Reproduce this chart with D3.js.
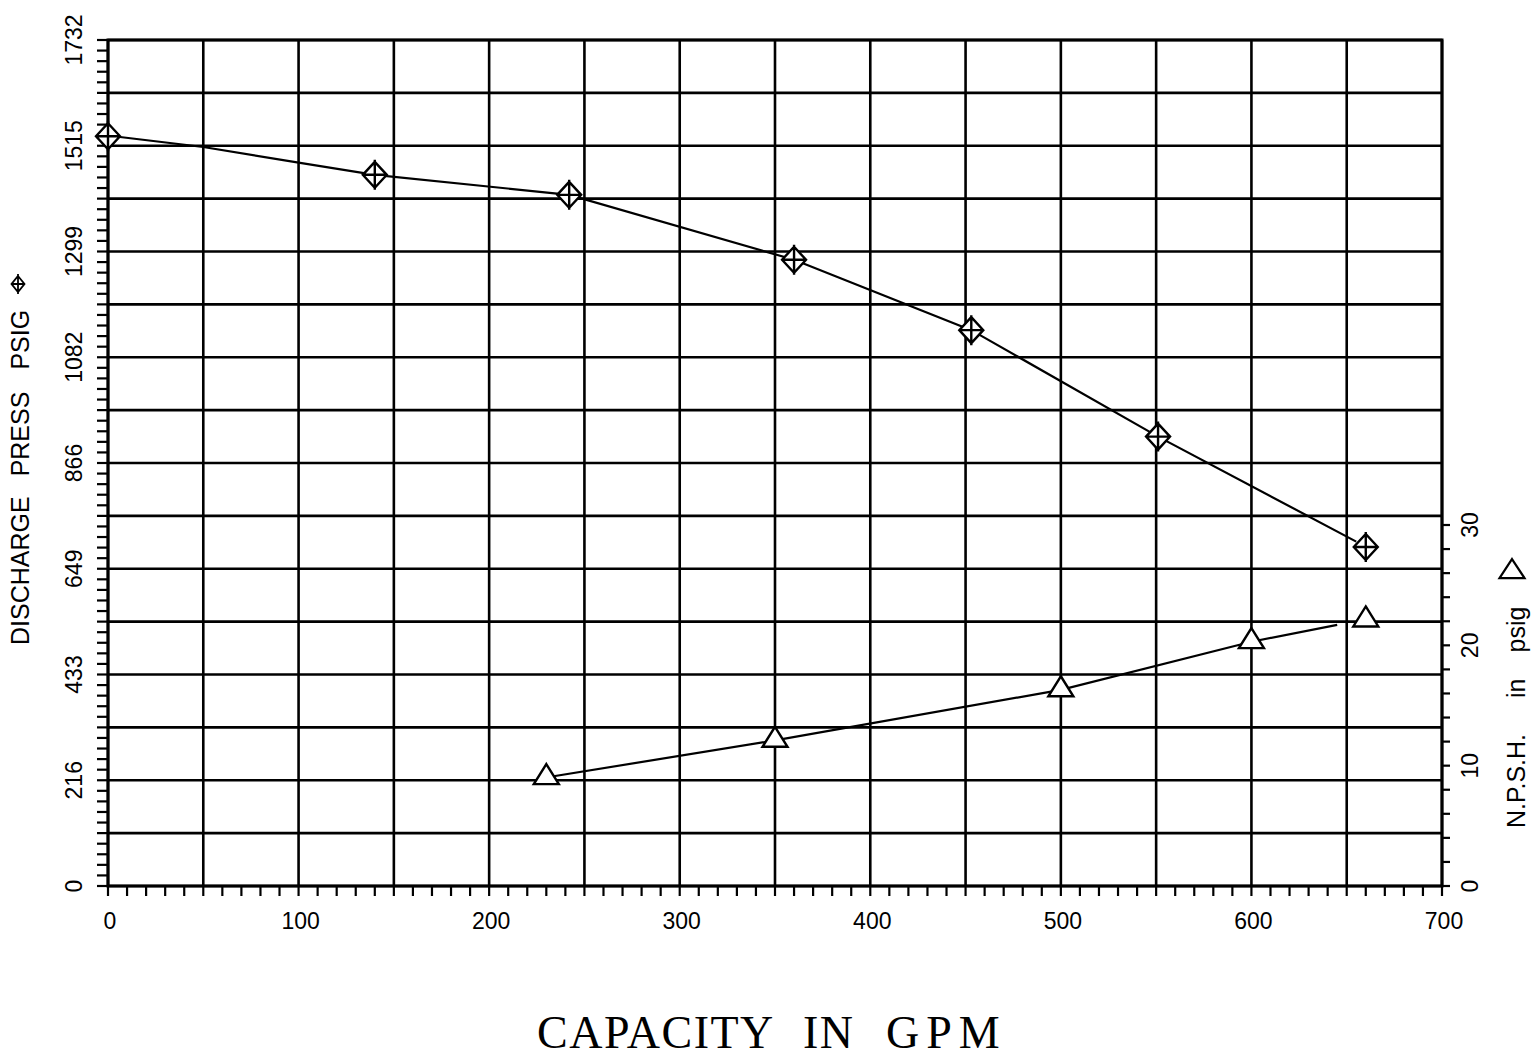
<!DOCTYPE html>
<html>
<head>
<meta charset="utf-8">
<script src="https://cdn.jsdelivr.net/npm/d3@7"></script>
<style>
  body { margin: 0; background: #fff; }
  svg { display: block; }
  .tick-label { font-family: 'Liberation Sans', Arial, sans-serif; font-size: 23px; fill: #000; }
  .axis-title { font-family: 'Liberation Sans', Arial, sans-serif; font-size: 25px; fill: #000; }
  .main-title { font-family: 'Liberation Serif', 'Times New Roman', serif; font-size: 46px; fill: #000; }
</style>
</head>
<body>
<svg id="chart" width="1537" height="1057"></svg>
<script>
// discharge pressure readings (diamond markers)
const pressGpm = [0, 140, 242, 360, 453, 551, 660];
const pressPsig = [1535, 1456, 1415, 1282, 1138, 920, 694];

// drawn curve through the pressure readings
const pressCurveGpm = [3, 50, 100, 140, 242, 360, 453, 551, 655];
const pressCurvePsig = [1535, 1513, 1481, 1456, 1415, 1282, 1138, 920, 705];

// N.P.S.H. readings (triangle markers)
const npshGpm = [230, 350, 500, 600, 660];
const npshPsig = [9.0, 12.1, 16.3, 20.3, 22.1];

// drawn curve through the npsh readings
const npshCurveGpm = [233, 350, 500, 600, 645];
const npshCurvePsig = [9.1, 12.1, 16.3, 20.3, 21.7];

const xTickLabels = ['0', '100', '200', '300', '400', '500', '600', '700'];
const yTickLabels = ['0', '216', '433', '649', '866', '1082', '1299', '1515', '1732'];
const rTickLabels = ['0', '10', '20', '30'];

const svg = d3.select('#chart');

const plotLeft = 108;
const plotRight = 1442;
const plotTop = 40;
const plotBottom = 886;

const x = d3.scaleLinear().domain([0, 700]).range([plotLeft, plotRight]);
const y = d3.scaleLinear().domain([0, 1732]).range([plotBottom, plotTop]);
const yR = d3.scaleLinear().domain([0, 30]).range([plotBottom, 525]);

const ink = '#000';

// grid
const grid = svg.append('g');
grid.selectAll('.vgrid')
  .data(d3.range(0, 701, 50))
  .enter().append('line')
  .attr('x1', d => x(d)).attr('x2', d => x(d))
  .attr('y1', plotTop).attr('y2', plotBottom)
  .attr('stroke', ink).attr('stroke-width', 2.6);

grid.selectAll('.hgrid')
  .data(d3.range(0, 17).map(i => (i * 1732) / 16))
  .enter().append('line')
  .attr('x1', plotLeft).attr('x2', plotRight)
  .attr('y1', d => y(d)).attr('y2', d => y(d))
  .attr('stroke', ink).attr('stroke-width', 2.6);

// left axis ticks
svg.append('g').selectAll('line')
  .data(d3.range(0, 81).map(i => (i * 1732) / 80))
  .enter().append('line')
  .attr('x1', plotLeft - 11).attr('x2', plotLeft)
  .attr('y1', d => y(d)).attr('y2', d => y(d))
  .attr('stroke', ink).attr('stroke-width', 2.2);

svg.append('g').selectAll('text')
  .data(yTickLabels)
  .enter().append('text')
  .attr('class', 'tick-label')
  .attr('text-anchor', 'middle')
  .attr('dominant-baseline', 'central')
  .attr('transform', (d, i) => `translate(74,${y((i * 1732) / 8)}) rotate(-90)`)
  .text(d => d);

// bottom axis ticks
svg.append('g').selectAll('line')
  .data(d3.range(0, 701, 10))
  .enter().append('line')
  .attr('x1', d => x(d)).attr('x2', d => x(d))
  .attr('y1', plotBottom).attr('y2', plotBottom + 10)
  .attr('stroke', ink).attr('stroke-width', 2.2);

svg.append('g').selectAll('text')
  .data(xTickLabels)
  .enter().append('text')
  .attr('class', 'tick-label')
  .attr('text-anchor', 'middle')
  .attr('x', (d, i) => x(i * 100) + 2)
  .attr('y', 929)
  .text(d => d);

// right axis ticks
svg.append('g').selectAll('line')
  .data(d3.range(0, 31, 2))
  .enter().append('line')
  .attr('x1', plotRight).attr('x2', plotRight + 8)
  .attr('y1', d => yR(d)).attr('y2', d => yR(d))
  .attr('stroke', ink).attr('stroke-width', 2.2);

svg.append('g').selectAll('text')
  .data(rTickLabels)
  .enter().append('text')
  .attr('class', 'tick-label')
  .attr('text-anchor', 'middle')
  .attr('dominant-baseline', 'central')
  .attr('transform', (d, i) => `translate(1470,${yR(i * 10)}) rotate(-90)`)
  .text(d => d);

// frame
svg.append('rect')
  .attr('x', plotLeft).attr('y', plotTop)
  .attr('width', plotRight - plotLeft).attr('height', plotBottom - plotTop)
  .attr('fill', 'none').attr('stroke', ink).attr('stroke-width', 3);

// curves
const pressLine = d3.line()
  .x(d => x(d[0])).y(d => y(d[1]));

svg.append('path')
  .datum(d3.zip(pressCurveGpm, pressCurvePsig))
  .attr('d', pressLine)
  .attr('fill', 'none').attr('stroke', ink).attr('stroke-width', 2.2);

const npshLine = d3.line()
  .x(d => x(d[0])).y(d => yR(d[1]));

svg.append('path')
  .datum(d3.zip(npshCurveGpm, npshCurvePsig))
  .attr('d', npshLine)
  .attr('fill', 'none').attr('stroke', ink).attr('stroke-width', 2.2);

// markers
const diamond = (w, h) => `M0,${-h / 2}L${w / 2},0L0,${h / 2}L${-w / 2},0Z M0,${-h / 2 - 2}V${h / 2 + 2} M${-w / 2},0H${w / 2}`;
const triangle = (w, h) => `M0,${-h * 0.68}L${w / 2},${h * 0.32}L${-w / 2},${h * 0.32}Z`;

svg.append('g').selectAll('path')
  .data(d3.zip(pressGpm, pressPsig))
  .enter().append('path')
  .attr('transform', d => `translate(${x(d[0])},${y(d[1])})`)
  .attr('d', diamond(24, 26))
  .attr('fill', '#fff').attr('stroke', ink).attr('stroke-width', 2.4);

svg.append('g').selectAll('path')
  .data(d3.zip(npshGpm, npshPsig))
  .enter().append('path')
  .attr('transform', d => `translate(${x(d[0])},${yR(d[1])})`)
  .attr('d', triangle(25, 20))
  .attr('fill', '#fff').attr('stroke', ink).attr('stroke-width', 2.4);

// axis titles
const leftTitle = svg.append('text')
  .attr('class', 'axis-title')
  .attr('dominant-baseline', 'central')
  .attr('transform', 'translate(20,645) rotate(-90)');
leftTitle.append('tspan').text('DISCHARGE');
leftTitle.append('tspan').attr('dx', 20).text('PRESS');
leftTitle.append('tspan').attr('dx', 22).text('PSIG');

svg.append('path')
  .attr('transform', 'translate(18,284)')
  .attr('d', diamond(13, 16))
  .attr('fill', 'none').attr('stroke', ink).attr('stroke-width', 1.8);

const rightTitle = svg.append('text')
  .attr('class', 'axis-title')
  .attr('dominant-baseline', 'central')
  .attr('transform', 'translate(1516,828) rotate(-90)');
rightTitle.append('tspan').text('N.P.S.H.');
rightTitle.append('tspan').attr('dx', 36).text('in');
rightTitle.append('tspan').attr('dx', 26).text('psig');

svg.append('path')
  .attr('transform', 'translate(1512,572)')
  .attr('d', triangle(25, 19))
  .attr('fill', 'none').attr('stroke', ink).attr('stroke-width', 2.2);

const title = svg.append('text')
  .attr('class', 'main-title')
  .attr('y', 1048)
  .attr('letter-spacing', 1.5);
title.append('tspan').attr('x', 537).text('CAPACITY');
title.append('tspan').attr('x', 803).text('IN');
title.append('tspan').attr('x', 886).attr('letter-spacing', 7).text('GPM');
</script>
</body>
</html>
